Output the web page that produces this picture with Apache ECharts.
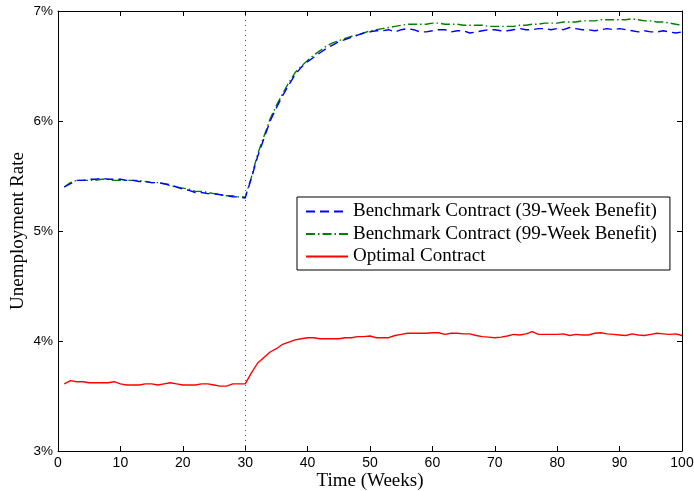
<!DOCTYPE html>
<html>
<head>
<meta charset="utf-8">
<script src="https://cdn.jsdelivr.net/npm/echarts@6/dist/echarts.min.js"></script>
<style>
  html, body { margin: 0; padding: 0; background: #fff; }
  #chart { width: 694px; height: 491px; }
</style>
</head>
<body>
<div id="chart"></div>
<script>
// Unemployment rate paths (percent) for weeks 1..100; policy change at week 30.
const benchmark39 = [
  5.40, 5.43, 5.46, 5.46, 5.47, 5.47, 5.48, 5.47, 5.47, 5.47,
  5.46, 5.46, 5.45, 5.45, 5.44, 5.44, 5.43, 5.42, 5.40, 5.38,
  5.37, 5.35, 5.35, 5.34, 5.34, 5.33, 5.32, 5.31, 5.31, 5.30,
  5.48, 5.68, 5.84, 6.00, 6.12, 6.23, 6.33, 6.42, 6.49, 6.54,
  6.58, 6.62, 6.66, 6.69, 6.72, 6.74, 6.76, 6.78, 6.80, 6.81,
  6.82, 6.82, 6.83, 6.81, 6.83, 6.84, 6.83, 6.81, 6.81, 6.82,
  6.83, 6.83, 6.81, 6.82, 6.82, 6.80, 6.81, 6.82, 6.83, 6.83,
  6.82, 6.82, 6.83, 6.84, 6.83, 6.83, 6.84, 6.84, 6.83, 6.84,
  6.83, 6.85, 6.84, 6.83, 6.83, 6.82, 6.83, 6.84, 6.83, 6.84,
  6.83, 6.82, 6.81, 6.82, 6.81, 6.81, 6.82, 6.81, 6.80, 6.81
];
const benchmark99 = [
  5.40, 5.44, 5.46, 5.46, 5.46, 5.46, 5.47, 5.47, 5.46, 5.46,
  5.46, 5.46, 5.46, 5.45, 5.44, 5.44, 5.43, 5.41, 5.40, 5.39,
  5.38, 5.36, 5.36, 5.35, 5.34, 5.33, 5.32, 5.32, 5.31, 5.31,
  5.49, 5.70, 5.86, 6.02, 6.14, 6.25, 6.35, 6.44, 6.50, 6.55,
  6.60, 6.64, 6.68, 6.71, 6.73, 6.75, 6.77, 6.78, 6.80, 6.82,
  6.83, 6.84, 6.85, 6.86, 6.87, 6.88, 6.88, 6.88, 6.88, 6.89,
  6.89, 6.88, 6.88, 6.88, 6.87, 6.87, 6.87, 6.87, 6.86, 6.86,
  6.86, 6.86, 6.86, 6.87, 6.87, 6.88, 6.88, 6.89, 6.89, 6.89,
  6.90, 6.90, 6.90, 6.91, 6.91, 6.91, 6.92, 6.92, 6.92, 6.92,
  6.92, 6.93, 6.92, 6.91, 6.91, 6.90, 6.90, 6.89, 6.88, 6.87
];
const optimal = [
  3.61, 3.64, 3.63, 3.63, 3.62, 3.62, 3.62, 3.62, 3.63, 3.61,
  3.60, 3.60, 3.60, 3.61, 3.61, 3.60, 3.61, 3.62, 3.61, 3.60,
  3.60, 3.60, 3.61, 3.61, 3.60, 3.59, 3.59, 3.61, 3.61, 3.61,
  3.71, 3.80, 3.85, 3.90, 3.93, 3.97, 3.99, 4.01, 4.02, 4.03,
  4.03, 4.02, 4.02, 4.02, 4.02, 4.03, 4.03, 4.04, 4.04, 4.045,
  4.03, 4.03, 4.03, 4.05, 4.06, 4.07, 4.07, 4.07, 4.07, 4.075,
  4.075, 4.06, 4.07, 4.07, 4.065, 4.065, 4.05, 4.04, 4.035, 4.03,
  4.035, 4.045, 4.06, 4.055, 4.065, 4.085, 4.06, 4.06, 4.06, 4.06,
  4.065, 4.05, 4.06, 4.055, 4.055, 4.07, 4.075, 4.065, 4.06, 4.055,
  4.05, 4.065, 4.055, 4.05, 4.06, 4.07, 4.065, 4.06, 4.065, 4.05
];
const firstWeek = 1;
const policyWeek = 30;
const seriesNames = [
  'Benchmark Contract (39-Week Benefit)',
  'Benchmark Contract (99-Week Benefit)',
  'Optimal Contract'
];
const yTicks = [3, 4, 5, 6, 7];

const toPairs = arr => arr.map((v, i) => [firstWeek + i, v]);

const serif = '"Liberation Serif", "DejaVu Serif", serif';
const sans = '"Liberation Sans", Arial, sans-serif';

const chart = echarts.init(document.getElementById('chart'), null, { renderer: 'canvas' });

const baseX = {
  type: 'value', min: 0, max: 100, interval: 10,
  splitLine: { show: false },
  axisLine: { show: true, onZero: false, lineStyle: { color: '#000', width: 1 } },
  axisTick: { show: true, inside: true, length: 5, lineStyle: { color: '#000' } }
};
const baseY = {
  type: 'value', min: yTicks[0], max: yTicks[yTicks.length - 1], interval: 1,
  splitLine: { show: false },
  axisLine: { show: true, onZero: false, lineStyle: { color: '#000', width: 1 } },
  axisTick: { show: true, inside: true, length: 5, lineStyle: { color: '#000' } }
};

chart.setOption({
  animation: false,
  backgroundColor: '#fff',
  grid: { left: 58, right: 12, top: 11, bottom: 40, containLabel: false, outerBoundsMode: 'none' },
  xAxis: [
    Object.assign({}, baseX, {
      position: 'bottom',
      name: 'Time (Weeks)', nameLocation: 'middle', nameGap: 21, nameMoveOverlap: false,
      nameTextStyle: { fontFamily: serif, fontSize: 19, color: '#000' },
      axisLabel: { fontFamily: sans, fontSize: 14, color: '#000', margin: 5 }
    }),
    Object.assign({}, baseX, { position: 'top', axisLabel: { show: false } })
  ],
  yAxis: [
    Object.assign({}, baseY, {
      position: 'left',
      name: 'Unemployment Rate', nameLocation: 'middle', nameGap: 30, nameMoveOverlap: false,
      nameTextStyle: { fontFamily: serif, fontSize: 19, color: '#000' },
      axisLabel: { fontFamily: sans, fontSize: 13.5, color: '#000', margin: 5, formatter: v => v + '%' }
    }),
    Object.assign({}, baseY, { position: 'right', axisLabel: { show: false } })
  ],
  legend: {
    orient: 'vertical',
    left: 297, top: 197,
    padding: [5, 13, 4, 8],
    itemGap: 3.5,
    itemWidth: 42, itemHeight: 14,
    backgroundColor: '#fff',
    borderColor: '#000', borderWidth: 1,
    borderRadius: 0,
    itemStyle: { opacity: 0 },
    textStyle: { fontFamily: serif, fontSize: 19, lineHeight: 19, color: '#000' },
    data: seriesNames
  },
  series: [
    {
      name: seriesNames[0], type: 'line', data: toPairs(benchmark39),
      symbol: 'none', color: '#0000ff', z: 3,
      lineStyle: { color: '#0000ff', width: 1.4, type: [9, 5] },
      markLine: {
        silent: true, symbol: 'none', label: { show: false },
        lineStyle: { color: '#555', type: [1, 4], width: 1 },
        data: [{ xAxis: policyWeek }]
      }
    },
    {
      name: seriesNames[1], type: 'line', data: toPairs(benchmark99),
      symbol: 'none', color: '#008000', z: 2,
      lineStyle: { color: '#008000', width: 1.4, type: [9, 3, 1.5, 3] }
    },
    {
      name: seriesNames[2], type: 'line', data: toPairs(optimal),
      symbol: 'none', color: '#ff0000', z: 2,
      lineStyle: { color: '#ff0000', width: 1.4 }
    }
  ]
});
</script>
</body>
</html>
